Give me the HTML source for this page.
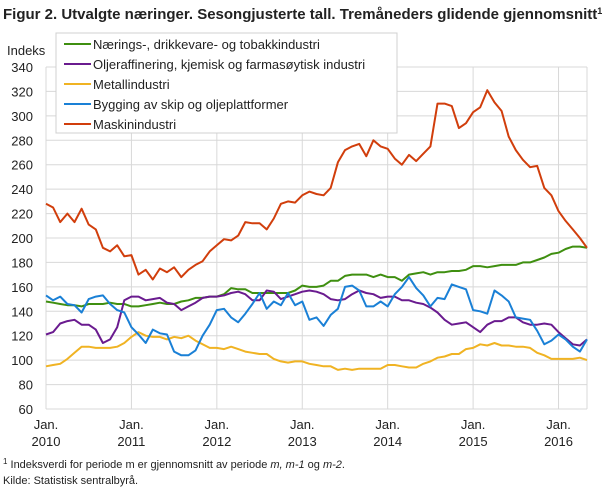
<!DOCTYPE html>
<html><head><meta charset="utf-8"><style>
body{margin:0;background:#fff;font-family:"Liberation Sans",sans-serif;}
svg text{font-family:"Liberation Sans",sans-serif;fill:#222;}
</style></head><body>
<svg width="609" height="489" xmlns="http://www.w3.org/2000/svg">
<text x="3" y="19" font-size="15" font-weight="bold">Figur 2. Utvalgte næringer. Sesongjusterte tall. Tremåneders glidende gjennomsnitt<tspan font-size="9" dy="-5">1</tspan></text>
<text x="7" y="55" font-size="13">Indeks</text>
<g id="grid"></g>
<g id="axes"></g>
<g id="series"></g>
<g>
<rect x="56" y="33" width="341" height="100" fill="#fff" stroke="#d0d0d0"/>
<g id="legend-items"></g>
</g>
<text x="3" y="468" font-size="11"><tspan font-size="8" dy="-4">1</tspan><tspan dy="4"> Indeksverdi for periode m er gjennomsnitt av periode </tspan><tspan font-style="italic">m, m-1</tspan> og <tspan font-style="italic">m-2</tspan>.</text>
<text x="3" y="484" font-size="11">Kilde: Statistisk sentralbyrå.</text>
</svg>
<script>
const seriesNames=["Nærings-, drikkevare- og tobakkindustri","Oljeraffinering, kjemisk og farmasøytisk industri","Metallindustri","Bygging av skip og oljeplattformer","Maskinindustri"];
const seriesColors=["#3f8f10","#6a1b8f","#f0b323","#1a80d6","#d13e0c"];
const naering=[148,147,146,145,145,144,146,146,146,147,146,146,144,144,145,146,147,146,146,148,149,151,151,152,152,154,159,158,158,155,155,155,155,155,155,157,161,160,160,161,165,165,169,170,170,170,168,170,168,168,165,170,171,172,170,172,172,173,173,174,177,177,176,177,178,178,178,180,180,182,184,187,188,191,193,193,192];
const olje=[121,123,130,132,133,129,129,125,114,117,127,149,152,152,149,150,151,147,146,141,144,147,151,152,152,153,155,156,154,149,149,157,156,150,152,154,156,157,156,154,150,149,150,154,157,155,154,151,152,152,149,149,147,146,143,139,133,129,130,131,127,123,129,132,132,135,135,131,129,129,130,129,123,118,113,112,117];
const metall=[95,96,97,101,106,111,111,110,110,110,111,114,119,123,120,119,119,117,119,118,120,116,113,110,110,109,111,109,107,106,105,105,101,99,98,99,99,97,96,95,95,92,93,92,93,93,93,93,96,96,95,94,94,97,99,102,103,105,105,109,110,113,112,114,112,112,111,111,110,106,104,101,101,101,101,102,100];
const skip=[153,149,152,146,145,139,150,152,153,146,141,139,127,121,114,125,122,121,107,104,104,108,120,129,141,142,135,131,138,146,155,142,148,145,155,145,148,133,135,128,137,142,160,161,157,144,144,148,144,154,160,168,159,153,144,151,150,162,160,158,141,140,138,157,153,148,135,134,133,124,113,116,121,117,111,107,117];
const maskin=[228,225,213,220,213,224,211,207,192,189,194,185,186,170,174,166,175,172,176,168,174,178,181,189,194,199,198,202,213,212,212,207,216,228,230,229,235,238,236,235,241,262,272,275,277,267,280,275,273,265,260,268,263,269,275,310,310,308,290,294,303,307,321,311,304,283,272,264,258,259,241,235,222,214,207,200,192];
const allSeries=[naering,olje,metall,skip,maskin];
const yTicks=[60,80,100,120,140,160,180,200,220,240,260,280,300,320,340];
const yearLabels=["2010","2011","2012","2013","2014","2015","2016"];
const X0=46,X1=587,Y0=409,Y1=67,YMIN=60,YMAX=340,N=77;
const xs=i=>X0+i*(X1-X0)/(N-1);
const ys=v=>Y0-(v-YMIN)*(Y0-Y1)/(YMAX-YMIN);
const NS="http://www.w3.org/2000/svg";
function mk(t,a,p){const e=document.createElementNS(NS,t);for(const k in a)e.setAttribute(k,a[k]);p.appendChild(e);return e;}
const grid=document.getElementById('grid'),axes=document.getElementById('axes'),ser=document.getElementById('series'),leg=document.getElementById('legend-items');
yTicks.forEach(t=>{
const l=mk('line',{x1:X0,x2:X1,y1:ys(t),y2:ys(t),stroke:'#d8d8d8'},grid);


const tx=mk('text',{x:33,y:ys(t)+5,'font-size':13,'text-anchor':'end'},axes);tx.textContent=t;


});
yearLabels.forEach((y,k)=>{
const x=xs(k*12);
const l=mk('line',{x1:x,x2:x,y1:Y1,y2:Y0,stroke:'#d8d8d8'},grid);


const t1=mk('text',{x:x,y:429,'font-size':13,'text-anchor':'middle'},axes);t1.textContent='Jan.';


const t2=mk('text',{x:x,y:446,'font-size':13,'text-anchor':'middle'},axes);t2.textContent=y;


});
const rl=mk('line',{x1:X1,x2:X1,y1:Y1,y2:Y0,stroke:'#d8d8d8'},grid);


allSeries.forEach((s,j)=>{
const p=mk('polyline',{points:s.map((v,i)=>xs(i).toFixed(1)+','+ys(v).toFixed(1)).join(' '),fill:'none',stroke:seriesColors[j],'stroke-width':2,'stroke-linejoin':'round'},ser);


const y=44+j*20;
const sw=mk('line',{x1:64,x2:91,y1:y,y2:y,stroke:seriesColors[j],'stroke-width':2},leg);


const t=mk('text',{x:93,y:y+5,'font-size':13},leg);t.textContent=seriesNames[j];


});
</script>
</body></html>
